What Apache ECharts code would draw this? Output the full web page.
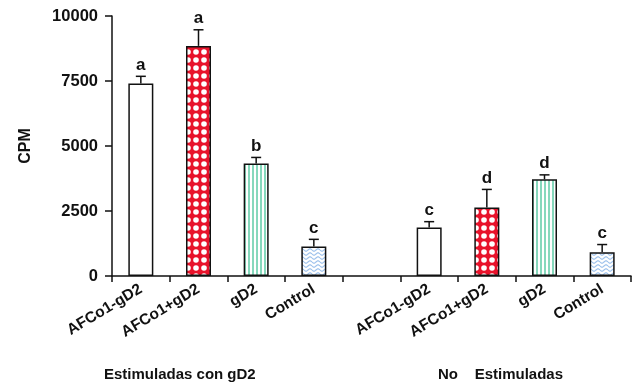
<!DOCTYPE html>
<html>
<head>
<meta charset="utf-8">
<script src="https://cdn.jsdelivr.net/npm/echarts@6/dist/echarts.min.js"></script>
<style>
  html, body { margin: 0; padding: 0; background: #fff; }
  #chart { width: 637px; height: 385px; }
</style>
</head>
<body>
<div id="chart"></div>
<script>
// Treatment categories; the empty slot separates the two groups
const categories = ['AFCo1-gD2', 'AFCo1+gD2', 'gD2', 'Control', '', 'AFCo1-gD2', 'AFCo1+gD2', 'gD2', 'Control'];
// Mean CPM and upper error (SD) per treatment
const cpmMean  = [7400, 8850, 4330, 1130, null, 1870, 2630, 3720, 910];
const cpmError = [280, 620, 230, 280, null, 220, 700, 170, 300];
// Significance letters above each bar
const sigLetters = ['a', 'a', 'b', 'c', '', 'c', 'd', 'd', 'c'];
// Fill pattern per treatment
const fillKinds = ['plain', 'dots', 'stripes', 'waves', null, 'plain', 'dots', 'stripes', 'waves'];
// Y-axis ticks
const yTicks = [0, 2500, 5000, 7500, 10000];
// Group captions under the axis
const groupNames = ['Estimuladas con gD2', 'No    Estimuladas'];

const FONT = '"Liberation Sans", Arial, Helvetica, sans-serif';
const INK = '#111';

function makeTile(w, h, draw) {
  const c = document.createElement('canvas');
  c.width = w; c.height = h;
  draw(c.getContext('2d'), w, h);
  return { image: c, repeat: 'repeat' };
}

const patterns = {
  plain: '#ffffff',
  dots: makeTile(8, 8, (g, w, h) => {
    g.fillStyle = '#e8132b';
    g.fillRect(0, 0, w, h);
    g.fillStyle = '#ffffff';
    g.beginPath();
    g.arc(4, 4, 2.8, 0, Math.PI * 2);
    g.fill();
  }),
  stripes: makeTile(4, 4, (g, w, h) => {
    g.fillStyle = '#ffffff';
    g.fillRect(0, 0, w, h);
    g.fillStyle = '#86d8bc';
    g.fillRect(0, 0, 2, h);
  }),
  waves: makeTile(8, 4, (g, w, h) => {
    g.fillStyle = '#ffffff';
    g.fillRect(0, 0, w, h);
    g.strokeStyle = '#9ec2ec';
    g.lineWidth = 1.1;
    g.beginPath();
    for (let x = 0; x <= w; x += 0.5) {
      const y = 2 + 1.2 * Math.sin((x / w) * Math.PI * 2);
      if (x === 0) g.moveTo(x, y); else g.lineTo(x, y);
    }
    g.stroke();
  })
};

const barData = cpmMean.map((v, i) => v == null ? '-' : {
  value: v,
  itemStyle: { color: patterns[fillKinds[i]] }
});

const errData = [];
cpmMean.forEach((v, i) => { if (v != null) errData.push([i, v, cpmError[i]]); });

function renderError(params, api) {
  const i = api.value(0), m = api.value(1), e = api.value(2);
  const base = api.coord([i, m]);
  const top = api.coord([i, m + e]);
  const half = 5;
  return {
    type: 'group',
    children: [
      { type: 'line', shape: { x1: base[0], y1: base[1], x2: top[0], y2: top[1] },
        style: { stroke: INK, lineWidth: 1.5 } },
      { type: 'line', shape: { x1: top[0] - half, y1: top[1], x2: top[0] + half, y2: top[1] },
        style: { stroke: INK, lineWidth: 1.5 } },
      { type: 'text', x: top[0], y: top[1] - 3,
        style: { text: sigLetters[i], align: 'center', verticalAlign: 'bottom',
                 font: 'bold 17px ' + FONT, fill: INK } }
    ]
  };
}

const chart = echarts.init(document.getElementById('chart'), null, { renderer: 'canvas' });
chart.setOption({
  animation: false,
  backgroundColor: '#ffffff',
  grid: { left: 112, right: 6, top: 16, bottom: 109, containLabel: false },
  xAxis: {
    type: 'category',
    data: categories,
    boundaryGap: true,
    axisLine: { lineStyle: { color: INK, width: 1.5 } },
    axisTick: { show: true, length: 6, alignWithLabel: false, lineStyle: { color: INK, width: 1.5 } },
    axisLabel: {
      interval: 0, rotate: 31, margin: 12,
      fontFamily: FONT, fontWeight: 'bold', fontSize: 15.5, color: INK
    }
  },
  yAxis: {
    type: 'value',
    min: yTicks[0], max: yTicks[yTicks.length - 1], interval: yTicks[1] - yTicks[0],
    name: 'CPM', nameLocation: 'middle', nameGap: 78, nameRotate: 90,
    nameTextStyle: { fontFamily: FONT, fontWeight: 'bold', fontSize: 16, color: INK },
    axisLine: { show: true, lineStyle: { color: INK, width: 1.5 } },
    axisTick: { show: true, length: 7, inside: false, lineStyle: { color: INK, width: 1.5 } },
    splitLine: { show: false },
    axisLabel: {
      margin: 14, fontFamily: FONT, fontWeight: 'bold', fontSize: 16.5, color: INK,
      formatter: v => String(v)
    }
  },
  series: [
    {
      type: 'bar',
      data: barData,
      barWidth: 25,
      itemStyle: { borderColor: INK, borderWidth: 1.5 },
      z: 3
    },
    {
      type: 'custom',
      data: errData,
      renderItem: renderError,
      encode: { x: 0, y: 1 },
      z: 2
    }
  ],
  graphic: [
    { type: 'text', left: 104, top: 367,
      style: { text: groupNames[0], font: 'bold 15px ' + FONT, fill: INK } },
    { type: 'text', left: 438, top: 367,
      style: { text: groupNames[1], font: 'bold 15px ' + FONT, fill: INK } }
  ]
});
</script>
</body>
</html>
